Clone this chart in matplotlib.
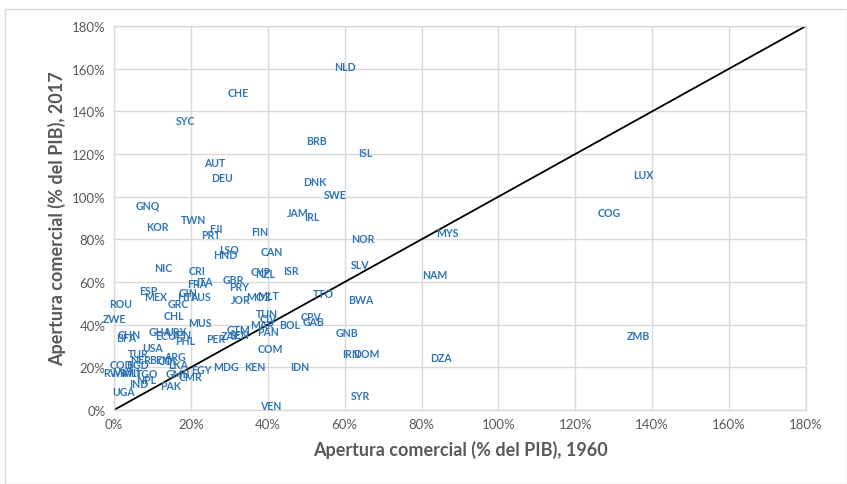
import matplotlib
matplotlib.use("Agg")
import matplotlib.pyplot as plt
from matplotlib.ticker import FuncFormatter, MultipleLocator
from matplotlib.patches import Rectangle

codes = ["NLD","CHE","SYC","BRB","ISL","AUT","DEU","LUX","DNK","SWE",
         "GNQ","COG","JAM","IRL","TWN","KOR","FJI","PRT","FIN","MYS",
         "NOR","LSO","HND","CAN","NIC","SLV","CRI","ISR","CYP","NZL",
         "NAM","GBR","FRA","ITA","PRY","TTO","ESP","GIN","MEX","HTI",
         "AUS","MOZ","MLT","JOR","BWA","ROU","GRC","CHL","TUN","CIV",
         "CPV","ZWE","MUS","MAR","BOL","GAB","GNB","CHN","BFA","GHA",
         "URY","ECU","JPN","PHL","PER","GTM","ZAF","SEN","PAN","COM",
         "IRN","DOM","DZA","ZMB","USA","TUR","NER","BEN","ARG","COL",
         "LKA","COD","BGD","RWA","MWI","MLI","TGO","NPL","IND","PAK",
         "UGA","GMB","EGY","CMR","MDG","KEN","IDN","VEN","SYR"]
open_1960 = [60.1,32.3,18.7,52.8,65.3,26.3,28.1,137.6,52.3,57.5,
             8.8,128.8,47.9,51.5,20.8,11.4,26.5,25.2,38.0,86.6,
             64.8,29.9,28.9,41.1,12.7,64.0,21.6,46.0,38.2,39.3,
             83.5,31.0,21.6,23.6,32.5,54.4,8.8,19.3,10.9,18.7,
             22.4,37.5,40.1,33.0,64.3,1.6,16.6,15.6,39.8,40.1,
             51.2,0.0,22.4,38.5,45.8,52.0,60.6,3.9,3.1,12.0,
             16.1,13.5,17.8,18.5,26.5,32.3,30.2,32.8,40.1,40.8,
             61.7,65.6,85.1,136.3,10.1,6.2,6.8,12.0,15.9,14.0,
             16.6,1.8,6.0,0.3,2.6,4.2,8.6,8.3,6.5,14.6,
             2.4,16.6,22.6,20.0,29.1,36.7,48.4,40.8,64.0]
open_2017 = [160.8,148.6,135.5,126.1,120.5,115.8,108.8,110.6,106.9,100.8,
             96.1,92.8,92.8,90.5,89.1,85.8,84.9,82.5,83.5,83.0,
             80.6,75.0,73.1,74.5,67.0,68.4,65.2,65.6,64.7,64.0,
             63.3,61.4,59.5,60.0,58.1,54.4,55.8,55.3,53.0,53.4,
             53.4,53.4,53.9,51.6,52.0,49.7,49.7,44.5,45.0,42.7,
             43.6,43.1,40.8,40.3,40.3,41.3,36.1,35.6,33.8,37.0,
             37.0,34.7,35.6,32.8,33.3,37.5,34.7,35.6,36.6,28.6,
             26.3,26.3,24.8,34.7,29.1,26.3,23.9,23.9,25.3,23.0,
             21.1,21.1,21.1,17.6,17.8,17.6,16.9,14.5,12.2,11.3,
             8.9,17.3,19.2,15.5,20.6,20.6,20.2,1.9,7.0]

blue = "#2E75B6"
gray = "#595959"
grid = "#D9D9D9"

fig = plt.figure(figsize=(8.47, 4.85), dpi=100)
fig.patches.append(Rectangle((0.006, 0.0), 0.994, 0.979, transform=fig.transFigure,
                             fill=False, edgecolor=grid, linewidth=1.0))
ax = fig.add_axes([0.1346, 0.1526, 0.8170, 0.7917])

ax.set_xlim(0, 180)
ax.set_ylim(0, 180)
ax.xaxis.set_major_locator(MultipleLocator(20))
ax.yaxis.set_major_locator(MultipleLocator(20))
fmt = FuncFormatter(lambda v, p: f"{int(round(v))}%")
ax.xaxis.set_major_formatter(fmt)
ax.yaxis.set_major_formatter(fmt)
ax.grid(True, color=grid, linewidth=1.0)
ax.set_axisbelow(True)
for s in ax.spines.values():
    s.set_color(grid)
    s.set_linewidth(1.0)
ax.tick_params(length=0, colors=gray, labelsize=9.5, pad=6)
for lab in ax.get_xticklabels() + ax.get_yticklabels():
    lab.set_fontfamily("Lato")

ax.plot([0, 180], [0, 180], color="black", linewidth=1.3, zorder=2)

for c, xv, yv in zip(codes, open_1960, open_2017):
    ax.text(xv, yv, c, color=blue, fontsize=7.6, fontweight="bold", family="Lato",
            ha="center", va="center", zorder=3, clip_on=False)

ax.set_xlabel("Apertura comercial (% del PIB), 1960", fontsize=13, fontweight="bold",
              color=gray, family="Lato", labelpad=7)
ax.set_ylabel("Apertura comercial (% del PIB), 2017", fontsize=13, fontweight="bold",
              color=gray, family="Lato", labelpad=4)

fig.savefig("out.png", dpi=100)
